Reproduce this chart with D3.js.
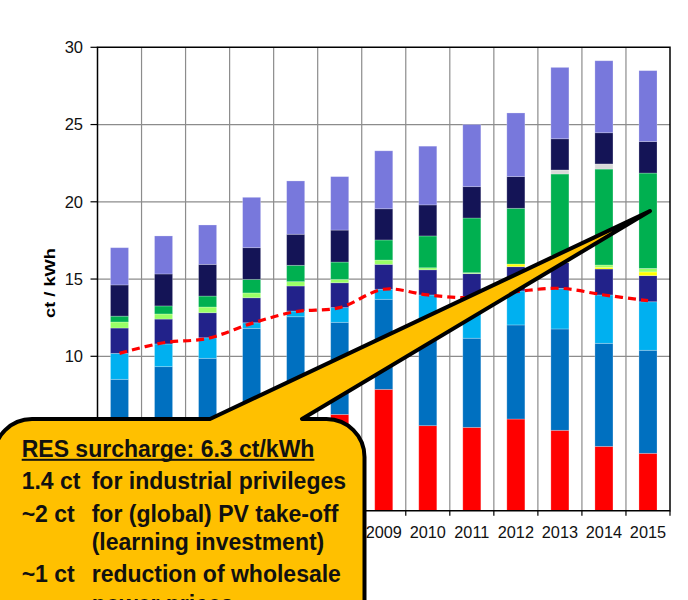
<!DOCTYPE html>
<html>
<head>
<meta charset="utf-8">
<script src="https://cdn.jsdelivr.net/npm/d3@7"></script>
<style>
  body { margin: 0; background: #fff; }
  svg { display: block; font-family: "Liberation Sans", Arial, sans-serif; }
</style>
</head>
<body>
<script>
// years on the x axis
const years = ["2003", "2004", "2005", "2006", "2007", "2008", "2009",
               "2010", "2011", "2012", "2013", "2014", "2015"];

// price components, ct/kWh, stacked bottom to top
const generation = [2.90, 3.40, 3.90, 5.40, 6.20, 6.24, 7.86, 5.51, 5.40, 5.94, 5.21, 4.17, 3.72];
const grid       = [5.61, 5.93, 5.97, 6.41, 6.36, 5.96, 5.83, 5.89, 5.77, 6.09, 6.56, 6.67, 6.67];
const sales      = [1.68, 1.47, 1.33, 0.36, 0.37, 0.95, 0.65, 2.57, 2.63, 2.20, 2.63, 3.13, 3.14];
const concession = [1.64, 1.61, 1.62, 1.62, 1.62, 1.61, 1.61, 1.63, 1.55, 1.57, 1.67, 1.68, 1.69];
const par19      = [0, 0, 0, 0, 0, 0, 0, 0, 0, 0.17, 0.33, 0.11, 0.24];
const chp        = [0.39, 0.33, 0.37, 0.31, 0.28, 0.22, 0.28, 0.13, 0.06, 0, 0.12, 0.15, 0.23];
const res        = [0.38, 0.52, 0.71, 0.88, 1.06, 1.12, 1.30, 2.06, 3.54, 3.61, 5.28, 6.21, 6.17];
const offshore   = [0, 0, 0, 0, 0, 0, 0, 0, 0, 0, 0.26, 0.33, 0];
const elecTax    = [2.02, 2.07, 2.05, 2.05, 2.01, 2.07, 2.02, 2.01, 2.03, 2.05, 2.02, 2.02, 2.04];
const vat        = [2.41, 2.46, 2.55, 3.26, 3.45, 3.46, 3.75, 3.80, 4.02, 4.12, 4.62, 4.66, 4.59];

// red dashed line
const netPrice = [10.19, 10.88, 11.16, 12.13, 12.89, 13.15, 14.34, 13.97, 13.80, 14.18, 14.40, 13.97, 13.60];

const yTicks = [10, 15, 20, 25, 30];

const seriesKeys = ["generation", "grid", "sales", "concession", "par19", "chp",
                    "res", "offshore", "elecTax", "vat"];
const seriesValues = [generation, grid, sales, concession, par19, chp,
                      res, offshore, elecTax, vat];
const seriesColors = ["#ff0000", "#0070c0", "#00b0f0", "#22228a", "#ffff00", "#99ff66",
                      "#00b050", "#d9d9d9", "#141456", "#7878dc"];

// callout text
const calloutTitle = "RES surcharge: 6.3 ct/kWh";
const calloutLeft  = ["1.4 ct", "~2 ct", "", "~1 ct", ""];
const calloutRight = ["for industrial privileges", "for (global) PV take-off",
                      "(learning investment)", "reduction of wholesale", "power prices"];

const width = 688, height = 600;
const plot = { left: 97.5, right: 670, top: 47.3, bottom: 510.8 };

const svg = d3.select("body").append("svg")
    .attr("width", width)
    .attr("height", height);

const x = d3.scaleBand()
    .domain(years)
    .range([plot.left, plot.right])
    .paddingInner(0.59)
    .paddingOuter(0.295);

const y = d3.scaleLinear()
    .domain([0, 30])
    .range([plot.bottom, plot.top]);

const step = x.step();
const boundaries = d3.range(years.length + 1).map(i => plot.left + i * step);

// callout geometry (box sits over the lower left of the chart)
const bx0 = -6, by0 = 419, bx1 = 364.5, r = 38;

// gridlines
svg.append("g")
    .selectAll("line")
    .data(boundaries.slice(1, -1))
    .enter().append("line")
    .attr("x1", d => d).attr("x2", d => d)
    .attr("y1", plot.top).attr("y2", plot.bottom)
    .attr("stroke", "#8c8c8c")
    .attr("stroke-width", 1.2);

svg.append("g")
    .selectAll("line")
    .data(yTicks.slice(0, -1))
    .enter().append("line")
    .attr("x1", plot.left).attr("x2", plot.right)
    .attr("y1", d => y(d)).attr("y2", d => y(d))
    .attr("stroke", "#8c8c8c")
    .attr("stroke-width", 1.2);

// stacked bars
const table = years.map((yr, i) => {
    const row = { year: yr };
    seriesKeys.forEach((k, j) => row[k] = seriesValues[j][i]);
    return row;
});

const stacked = d3.stack().keys(seriesKeys)(table);

svg.append("g")
    .selectAll("g")
    .data(stacked)
    .enter().append("g")
    .attr("fill", (d, i) => seriesColors[i])
    .selectAll("rect")
    .data(d => d.filter(s => s[1] - s[0] > 0))
    .enter().append("rect")
    .attr("x", d => x(d.data.year))
    .attr("width", x.bandwidth())
    .attr("y", d => y(d[1]))
    .attr("height", d => y(d[0]) - y(d[1]))
    .attr("stroke", "rgba(255,255,255,0.3)")
    .attr("stroke-width", 0.8);

// axes and frame
svg.append("path")
    .attr("d", `M${plot.left},${plot.bottom}V${plot.top}H${plot.right}V${plot.bottom}Z`)
    .attr("fill", "none")
    .attr("stroke", "#000")
    .attr("stroke-width", 1.5);

svg.append("g")
    .selectAll("line")
    .data(yTicks)
    .enter().append("line")
    .attr("x1", plot.left - 7).attr("x2", plot.left)
    .attr("y1", d => y(d)).attr("y2", d => y(d))
    .attr("stroke", "#000")
    .attr("stroke-width", 1.2);

svg.append("g")
    .selectAll("line")
    .data(boundaries)
    .enter().append("line")
    .attr("x1", d => d).attr("x2", d => d)
    .attr("y1", plot.bottom).attr("y2", plot.bottom + 5)
    .attr("stroke", "#000")
    .attr("stroke-width", 1.2);

svg.append("g")
    .selectAll("text")
    .data(yTicks)
    .enter().append("text")
    .attr("x", 83)
    .attr("y", d => y(d))
    .attr("dy", "0.36em")
    .attr("text-anchor", "end")
    .attr("font-size", 16.5)
    .attr("fill", "#111")
    .text(d => d);

// year labels; the ones under the callout box are covered anyway
svg.append("g")
    .selectAll("text")
    .data(years.filter(d => x(d) > bx1))
    .enter().append("text")
    .attr("x", d => x(d) + x.bandwidth() / 2)
    .attr("y", 538.3)
    .attr("text-anchor", "middle")
    .attr("font-size", 16.3)
    .attr("fill", "#111")
    .text(d => d);

svg.append("text")
    .attr("transform", "translate(55,283) rotate(-90)")
    .attr("text-anchor", "middle")
    .attr("font-size", 14)
    .attr("font-weight", "bold")
    .attr("textLength", 70)
    .attr("lengthAdjust", "spacingAndGlyphs")
    .attr("fill", "#000")
    .text("ct / kWh");

// dashed net price line
const line = d3.line()
    .x((d, i) => x(years[i]) + x.bandwidth() / 2)
    .y(d => y(d))
    .curve(d3.curveCatmullRom.alpha(0.5));

svg.append("path")
    .datum(netPrice)
    .attr("d", line)
    .attr("fill", "none")
    .attr("stroke", "#ff0000")
    .attr("stroke-width", 3.2)
    .attr("stroke-dasharray", "8,5");

// callout box with pointer to the 2015 RES segment
const tipX = x("2015") + x.bandwidth() / 2 + 2, tipY = y(19.4);
const calloutPath = `M${bx0},700 L${bx0},${by0 + r} A${r},${r} 0 0 1 ${bx0 + r},${by0}
    L210,${by0} L${tipX},${tipY} L302,${by0} L${bx1 - r},${by0}
    A${r},${r} 0 0 1 ${bx1},${by0 + r} L${bx1},700 Z`;

svg.append("path")
    .attr("d", calloutPath)
    .attr("fill", "#ffc000")
    .attr("stroke", "#000")
    .attr("stroke-width", 4)
    .attr("stroke-linejoin", "round");

const note = svg.append("g")
    .attr("font-size", 23)
    .attr("font-weight", "bold")
    .attr("fill", "#111");

const title = note.append("text")
    .attr("x", 21.7)
    .attr("y", 456.7)
    .text(calloutTitle);

const titleLen = title.node().getComputedTextLength();
note.append("rect")
    .attr("x", 21.7)
    .attr("y", 458.8)
    .attr("width", titleLen)
    .attr("height", 2)
    .attr("fill", "#111");

const lineY = [489.3, 521.7, 550, 581.7, 612];
note.selectAll("text.left")
    .data(calloutLeft)
    .enter().append("text")
    .attr("class", "left")
    .attr("x", 21.7)
    .attr("y", (d, i) => lineY[i])
    .text(d => d);

note.selectAll("text.right")
    .data(calloutRight)
    .enter().append("text")
    .attr("class", "right")
    .attr("x", 91.7)
    .attr("y", (d, i) => lineY[i])
    .text(d => d);
</script>
</body>
</html>
